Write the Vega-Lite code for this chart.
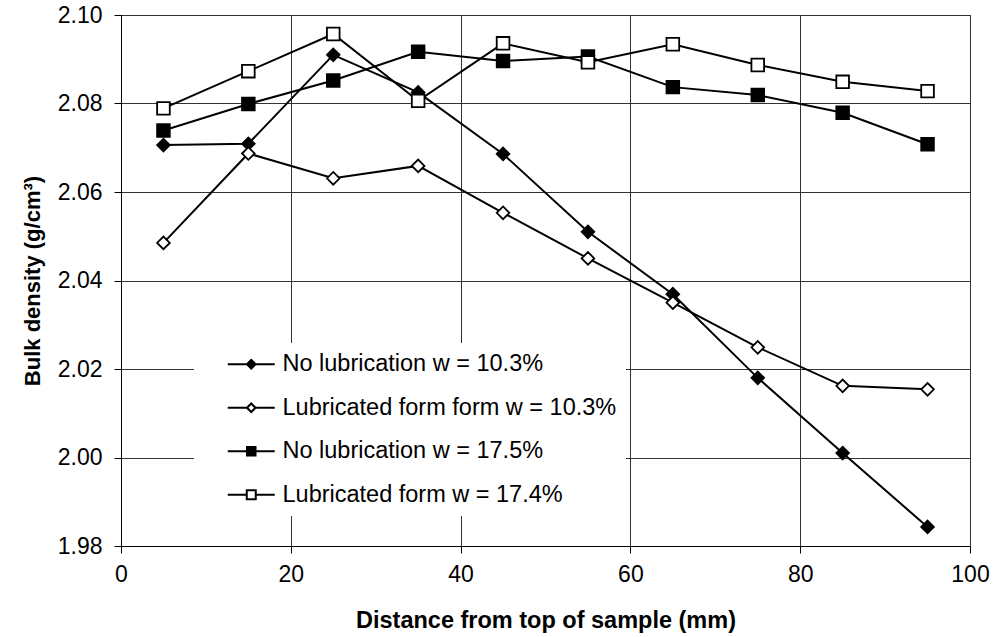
{
  "$schema": "https://vega.github.io/schema/vega-lite/v6.json",
  "width": 849,
  "height": 531,
  "autosize": {"type": "none"},
  "padding": {"left": 121, "top": 15, "right": 33, "bottom": 91},
  "background": "white",
  "config": {
    "font": "Liberation Sans",
    "view": {"stroke": "#444", "strokeWidth": 1}
  },
  "data": {
    "values": [
      {"distance": 5, "density": 2.0706, "series": "No lubrication w = 10.3%"},
      {"distance": 15, "density": 2.0709, "series": "No lubrication w = 10.3%"},
      {"distance": 25, "density": 2.0910, "series": "No lubrication w = 10.3%"},
      {"distance": 35, "density": 2.0825, "series": "No lubrication w = 10.3%"},
      {"distance": 45, "density": 2.0686, "series": "No lubrication w = 10.3%"},
      {"distance": 55, "density": 2.0510, "series": "No lubrication w = 10.3%"},
      {"distance": 65, "density": 2.0369, "series": "No lubrication w = 10.3%"},
      {"distance": 75, "density": 2.0180, "series": "No lubrication w = 10.3%"},
      {"distance": 85, "density": 2.0010, "series": "No lubrication w = 10.3%"},
      {"distance": 95, "density": 1.9843, "series": "No lubrication w = 10.3%"},
      {"distance": 5, "density": 2.0485, "series": "Lubricated form form w = 10.3%"},
      {"distance": 15, "density": 2.0687, "series": "Lubricated form form w = 10.3%"},
      {"distance": 25, "density": 2.0631, "series": "Lubricated form form w = 10.3%"},
      {"distance": 35, "density": 2.0659, "series": "Lubricated form form w = 10.3%"},
      {"distance": 45, "density": 2.0553, "series": "Lubricated form form w = 10.3%"},
      {"distance": 55, "density": 2.0450, "series": "Lubricated form form w = 10.3%"},
      {"distance": 65, "density": 2.0350, "series": "Lubricated form form w = 10.3%"},
      {"distance": 75, "density": 2.0249, "series": "Lubricated form form w = 10.3%"},
      {"distance": 85, "density": 2.0162, "series": "Lubricated form form w = 10.3%"},
      {"distance": 95, "density": 2.0154, "series": "Lubricated form form w = 10.3%"},
      {"distance": 5, "density": 2.0739, "series": "No lubrication w = 17.5%"},
      {"distance": 15, "density": 2.0799, "series": "No lubrication w = 17.5%"},
      {"distance": 25, "density": 2.0852, "series": "No lubrication w = 17.5%"},
      {"distance": 35, "density": 2.0917, "series": "No lubrication w = 17.5%"},
      {"distance": 45, "density": 2.0896, "series": "No lubrication w = 17.5%"},
      {"distance": 55, "density": 2.0906, "series": "No lubrication w = 17.5%"},
      {"distance": 65, "density": 2.0837, "series": "No lubrication w = 17.5%"},
      {"distance": 75, "density": 2.0819, "series": "No lubrication w = 17.5%"},
      {"distance": 85, "density": 2.0779, "series": "No lubrication w = 17.5%"},
      {"distance": 95, "density": 2.0708, "series": "No lubrication w = 17.5%"},
      {"distance": 5, "density": 2.0789, "series": "Lubricated form w = 17.4%"},
      {"distance": 15, "density": 2.0873, "series": "Lubricated form w = 17.4%"},
      {"distance": 25, "density": 2.0957, "series": "Lubricated form w = 17.4%"},
      {"distance": 35, "density": 2.0806, "series": "Lubricated form w = 17.4%"},
      {"distance": 45, "density": 2.0936, "series": "Lubricated form w = 17.4%"},
      {"distance": 55, "density": 2.0893, "series": "Lubricated form w = 17.4%"},
      {"distance": 65, "density": 2.0934, "series": "Lubricated form w = 17.4%"},
      {"distance": 75, "density": 2.0887, "series": "Lubricated form w = 17.4%"},
      {"distance": 85, "density": 2.0849, "series": "Lubricated form w = 17.4%"},
      {"distance": 95, "density": 2.0828, "series": "Lubricated form w = 17.4%"}
    ]
  },
  "encoding": {
    "x": {
      "field": "distance",
      "type": "quantitative",
      "scale": {"domain": [0, 100], "nice": false},
      "axis": {
        "values": [0, 20, 40, 60, 80, 100],
        "title": "Distance from top of sample (mm)",
        "titleFont": "Liberation Sans",
        "titleFontWeight": "bold",
        "titleFontSize": 23.5,
        "titleColor": "black",
        "titlePadding": 22,
        "labelFontSize": 23,
        "labelColor": "black",
        "labelPadding": 10,
        "tickSize": 7,
        "tickColor": "black",
        "domainColor": "black",
        "gridColor": "#333",
        "gridWidth": 1,
        "gridOpacity": 1,
        "labelFlush": false
      }
    },
    "y": {
      "field": "density",
      "type": "quantitative",
      "scale": {"domain": [1.98, 2.10], "nice": false, "zero": false},
      "axis": {
        "values": [1.98, 2.0, 2.02, 2.04, 2.06, 2.08, 2.10],
        "format": ".2f",
        "title": "Bulk density (g/cm³)",
        "titleFont": "Liberation Sans",
        "titleFontWeight": "bold",
        "titleFontSize": 22,
        "titleColor": "black",
        "titlePadding": 13,
        "labelFontSize": 23,
        "labelColor": "black",
        "labelPadding": 12,
        "tickSize": 7,
        "tickColor": "black",
        "domainColor": "black",
        "gridColor": "#333",
        "gridWidth": 1,
        "gridOpacity": 1,
        "labelFlush": false
      }
    }
  },
  "resolve": {"scale": {"shape": "independent"}, "legend": {"shape": "independent"}},
  "layer": [
    {
      "mark": {"type": "line", "color": "black", "strokeWidth": 2},
      "encoding": {"detail": {"field": "series"}}
    },
    {
      "mark": {"type": "point", "filled": false, "stroke": "black", "strokeWidth": 1.8, "size": 160, "opacity": 1},
      "encoding": {
        "shape": {
          "field": "series",
          "type": "nominal",
          "scale": {
            "domain": ["No lubrication w = 10.3%", "Lubricated form form w = 10.3%", "No lubrication w = 17.5%", "Lubricated form w = 17.4%"],
            "range": ["diamond", "diamond", "square", "square"]
          },
          "legend": null
        },
        "fill": {
          "field": "series",
          "type": "nominal",
          "scale": {
            "domain": ["No lubrication w = 10.3%", "Lubricated form form w = 10.3%", "No lubrication w = 17.5%", "Lubricated form w = 17.4%"],
            "range": ["black", "white", "black", "white"]
          },
          "legend": null
        }
      }
    },
    {
      "transform": [{"filter": "false"}],
      "mark": {"type": "point", "filled": true, "fill": "black", "strokeWidth": 0, "size": 100, "opacity": 1},
      "encoding": {
        "shape": {
          "field": "series",
          "type": "nominal",
          "scale": {
            "domain": ["No lubrication w = 10.3%", "Lubricated form form w = 10.3%", "No lubrication w = 17.5%", "Lubricated form w = 17.4%"],
            "range": [
              "M-4.7,-0.2L-1,-0.2L-1,0.2L-4.7,0.2ZM1,-0.2L4.7,-0.2L4.7,0.2L1,0.2ZM0,-1.15L1.15,0L0,1.15L-1.15,0Z",
              "M-4.7,-0.2L-1,-0.2L-1,0.2L-4.7,0.2ZM1,-0.2L4.7,-0.2L4.7,0.2L1,0.2ZM0,-1.15L1.15,0L0,1.15L-1.15,0ZM0,-0.55L-0.55,0L0,0.55L0.55,0Z",
              "M-4.7,-0.2L-1,-0.2L-1,0.2L-4.7,0.2ZM1,-0.2L4.7,-0.2L4.7,0.2L1,0.2ZM-1.05,-1.05L1.05,-1.05L1.05,1.05L-1.05,1.05Z",
              "M-4.7,-0.2L-1,-0.2L-1,0.2L-4.7,0.2ZM1,-0.2L4.7,-0.2L4.7,0.2L1,0.2ZM-1.1,-1.1L1.1,-1.1L1.1,1.1L-1.1,1.1ZM-0.7,-0.7L-0.7,0.7L0.7,0.7L0.7,-0.7Z"
            ]
          },
          "legend": {
            "title": null,
            "orient": "none",
            "legendX": 73,
            "legendY": 328,
            "fillColor": "white",
            "padding": 9.5,
            "labelFontSize": 23.5,
            "labelColor": "black",
            "labelFont": "Liberation Sans",
            "labelLimit": 0,
            "rowPadding": 18.5,
            "symbolSize": 100,
            "symbolOffset": 36,
            "labelOffset": 19.5,
            "symbolStrokeWidth": 0,
            "symbolFillColor": "black",
            "symbolOpacity": 1
          }
        }
      }
    }
  ]
}
